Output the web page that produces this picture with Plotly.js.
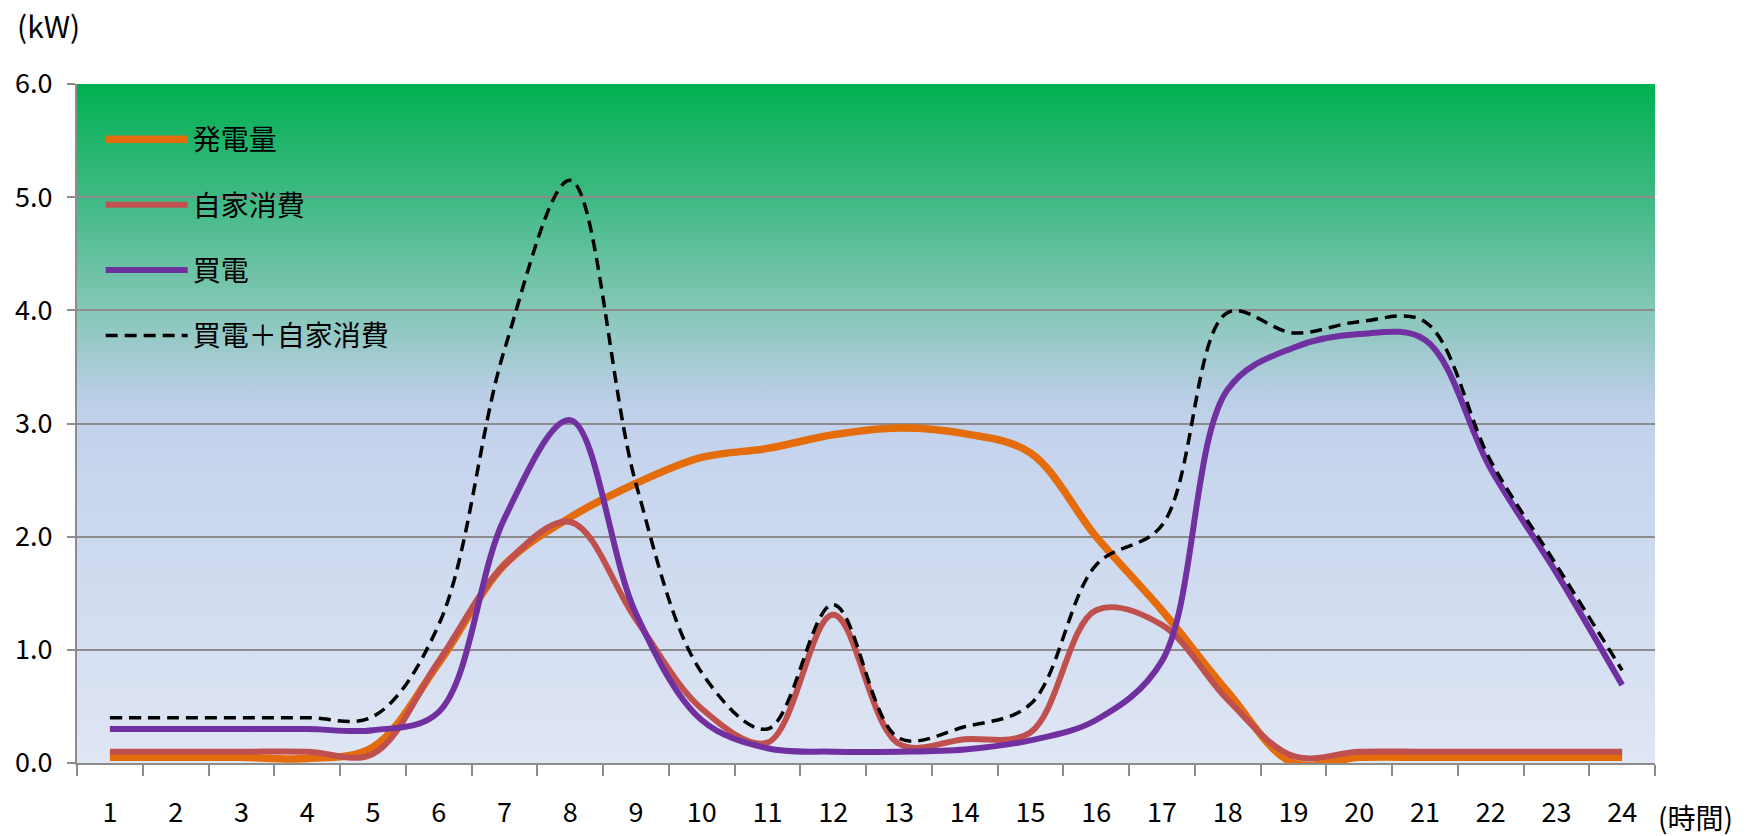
<!DOCTYPE html>
<html>
<head>
<meta charset="utf-8">
<script src="https://cdn.plot.ly/plotly-3.0.1.min.js"></script>
<style>
  html, body { margin: 0; padding: 0; background: #ffffff; }
  #chart { width: 1758px; height: 836px; }
</style>
</head>
<body>
<div id="chart"></div>
<script>
// ---- data ----
const hours = ['1','2','3','4','5','6','7','8','9','10','11','12','13','14','15','16','17','18','19','20','21','22','23','24'];
const generation  = [0.05,0.05,0.05,0.04,0.14,0.88,1.75,2.17,2.47,2.70,2.78,2.90,2.96,2.91,2.74,2.00,1.35,0.63,0.00,0.05,0.05,0.05,0.05,0.05]; // 発電量
const selfUse     = [0.10,0.10,0.10,0.10,0.08,0.90,1.75,2.13,1.27,0.48,0.18,1.31,0.17,0.21,0.27,1.35,1.22,0.56,0.06,0.10,0.10,0.10,0.10,0.10]; // 自家消費
const purchased   = [0.30,0.30,0.30,0.30,0.29,0.45,2.16,3.03,1.32,0.38,0.13,0.10,0.10,0.12,0.20,0.38,0.90,3.30,3.67,3.79,3.74,2.60,1.68,0.69]; // 買電
const totalUse    = [0.40,0.40,0.40,0.40,0.41,1.22,3.65,5.15,2.47,0.80,0.30,1.40,0.22,0.32,0.52,1.75,2.10,3.98,3.80,3.90,3.90,2.67,1.75,0.82]; // 買電＋自家消費
const yTickVals   = [0,1,2,3,4,5,6];
const yTickText   = ['0.0','1.0','2.0','3.0','4.0','5.0','6.0'];
const seriesNames = ['発電量','自家消費','買電','買電＋自家消費'];

const FONT = '"Noto Sans CJK JP", "Noto Sans", sans-serif';

function line(y, name, color, width, dash) {
  return {
    type: 'scatter', mode: 'lines', x: hours, y: y, name: name,
    legendgroup: name,
    line: { color: color, width: width, shape: 'spline', smoothing: 1, dash: dash || 'solid' },
    hoverinfo: 'skip'
  };
}

const traces = [
  line(generation, seriesNames[0], '#e46c0a', 7.5),
  line(selfUse,    seriesNames[1], '#c0504d', 6),
  line(purchased,  seriesNames[2], '#7030a0', 6),
  line(totalUse,   seriesNames[3], '#000000', 3.5, '12px,7px')
];

const gradSvg =
  "<svg xmlns='http://www.w3.org/2000/svg' width='100' height='600' preserveAspectRatio='none' viewBox='0 0 100 600'>" +
  "<defs><linearGradient id='g' x1='0' y1='0' x2='0' y2='1'>" +
  "<stop offset='0' stop-color='#00b050'/>" +
  "<stop offset='0.167' stop-color='#3fb983'/>" +
  "<stop offset='0.333' stop-color='#85c7b7'/>" +
  "<stop offset='0.45' stop-color='#b6cde2'/>" +
  "<stop offset='0.5' stop-color='#c3d2ec'/>" +
  "<stop offset='1' stop-color='#dfe6f4'/>" +
  "</linearGradient></defs><rect x='0' y='0' width='100' height='600' fill='url(#g)'/></svg>";
const gradUri = 'data:image/svg+xml;charset=utf-8,' + encodeURIComponent(gradSvg);

const layout = {
  width: 1758, height: 836,
  margin: { l: 77, r: 103, t: 84, b: 73, pad: 0 },
  paper_bgcolor: '#ffffff',
  plot_bgcolor: 'rgba(0,0,0,0)',
  font: { family: FONT, size: 27, color: '#000000' },
  showlegend: true,
  legend: {
    x: 0.015, y: 0.955, xanchor: 'left', yanchor: 'top',
    bgcolor: 'rgba(0,0,0,0)', borderwidth: 0,
    font: { family: FONT, size: 28, color: '#000000' },
    tracegroupgap: 26, itemwidth: 82, traceorder: 'grouped'
  },
  xaxis: {
    type: 'category',
    range: [-0.5, 23.5],
    tickson: 'boundaries',
    ticks: 'outside', ticklen: 11, tickwidth: 2, tickcolor: '#8c8c8c',
    showline: true, linecolor: '#8c8c8c', linewidth: 2,
    showgrid: false, zeroline: false,
    ticklabelstandoff: 25,
    tickfont: { family: FONT, size: 27, color: '#000000' },
    fixedrange: true
  },
  yaxis: {
    range: [0, 6],
    tickvals: yTickVals, ticktext: yTickText,
    ticks: 'outside', ticklen: 8, tickwidth: 2, tickcolor: '#8c8c8c',
    showline: true, linecolor: '#8c8c8c', linewidth: 2,
    showgrid: true, gridcolor: '#8c8c8c', gridwidth: 2,
    zeroline: false,
    ticklabelstandoff: 9,
    tickfont: { family: FONT, size: 27, color: '#000000' },
    fixedrange: true
  },
  images: [{
    source: gradUri, xref: 'paper', yref: 'paper',
    x: 0, y: 1, sizex: 1, sizey: 1, xanchor: 'left', yanchor: 'top',
    sizing: 'stretch', layer: 'below'
  }],
  annotations: [
    { text: '(kW)', xref: 'paper', yref: 'paper', x: -0.0392, y: 1.087,
      xanchor: 'left', yanchor: 'middle', showarrow: false,
      font: { family: FONT, size: 30, color: '#000000' } },
    { text: '(時間)', xref: 'paper', yref: 'paper', x: 1.0255, y: -0.080,
      xanchor: 'center', yanchor: 'middle', showarrow: false,
      font: { family: FONT, size: 28, color: '#000000' } }
  ]
};

Plotly.newPlot('chart', traces, layout, { staticPlot: true, displayModeBar: false });
</script>
</body>
</html>
